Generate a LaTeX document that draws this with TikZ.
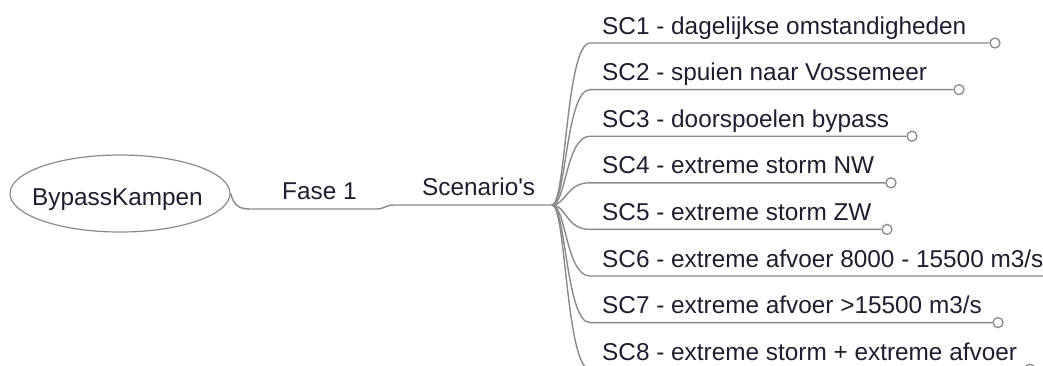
\documentclass[tikz,border=0pt]{standalone}
\usepackage{fontspec}
\setmainfont{Liberation Sans}
\usetikzlibrary{shapes.geometric}
\definecolor{wire}{HTML}{8A8A8A}
\definecolor{ink}{HTML}{1E1E2E}
\begin{document}
\begin{tikzpicture}[x=1pt,y=-1pt,
  label/.style={inner sep=0pt,anchor=base west,text=ink,
    font=\fontsize{24.35}{28}\selectfont},
  wire/.style={draw=wire,line width=1.4pt},
  leaf/.style={circle,draw=wire,fill=white,line width=1.3pt,
    minimum size=10pt,inner sep=0pt},
  rootnode/.style={ellipse,draw=wire,line width=1.2pt,minimum width=220pt,
    minimum height=77pt,inner sep=0pt}]
\useasboundingbox (0,0) rectangle (1043,365);

% root and first two levels
\node[rootnode] (root) at (120,193.5) {};
\node[label] (rootlbl) at (32,205) {BypassKampen};
\node[label] (fase) at (282,199) {Fase 1};
\node[label] (scen) at (422,195) {Scenario\textquotesingle s};
\coordinate (faseL) at (250,209);
\coordinate (faseR) at (376,209);
\coordinate (scenL) at (394,205);
\coordinate (hub) at (552,205);

\draw[wire] (root.east) .. controls (234,205) and (238,209) .. (faseL)
  -- (faseR) .. controls ++(9,0) and ++(-9,0) .. (scenL) -- (hub);

% scenario leaves
\foreach \i/\y/\cx/\txt in {
  1/43/995/{SC1 - dagelijkse omstandigheden},
  2/89.6/959/{SC2 - spuien naar Vossemeer},
  3/136.2/912/{SC3 - doorspoelen bypass},
  4/182.8/891/{SC4 - extreme storm NW},
  5/229.4/887/{SC5 - extreme storm ZW},
  6/276/1062/{SC6 - extreme afvoer 8000 - 15500 m3/s},
  7/322.6/998/{SC7 - extreme afvoer >15500 m3/s},
  8/369.2/1030/{SC8 - extreme storm + extreme afvoer}} {
  \node[label] (sc\i) at (602,\y-9) {\txt};
  \node[leaf] (end\i) at (\cx,\y) {};
  \coordinate (start\i) at (590,\y);
  \draw[wire] (hub) .. controls (566,205) and (566,\y) .. (start\i)
    -- (end\i.west);
}
\end{tikzpicture}
\end{document}
